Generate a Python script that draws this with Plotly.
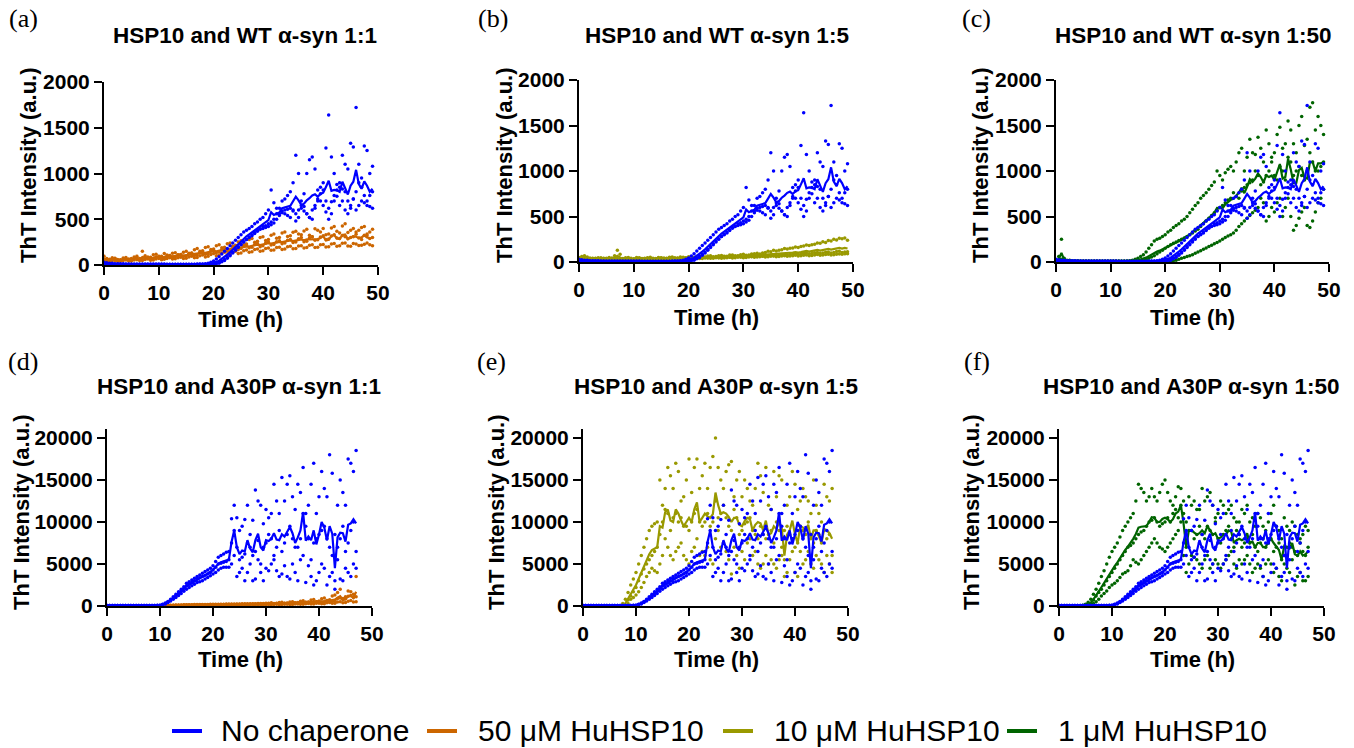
import numpy as np
import plotly.graph_objects as go

W, H = 1354, 748

# ---------------- data ----------------
# Readings are at whole hours (h0) and half hours (h5) for each replicate.
time_wt_end = 49      # WT alpha-syn runs, hours 0 .. 49
time_a30p_end = 47    # A30P alpha-syn runs, hours 0 .. 47

# WT alpha-syn, no chaperone (3 replicates)
wt_none_r1_h0 = [30,20,15,15,12,12,10,10,10,10,10,10,8,8,8,8,8,10,12,20,
                 45,90,150,210,270,330,380,420,470,520,600,680,560,720,800,
                 1200,650,1000,1180,700,900,1640,1000,650,1100,1330,1720,950,1250,1080]
wt_none_r1_h5 = [25,18,15,13,12,11,10,10,10,10,10,9,8,8,8,8,9,11,15,
                 30,65,120,180,240,300,360,400,450,500,560,820,620,700,760,
                 900,1000,780,1150,1050,850,1280,1180,880,1200,1050,1290,1100,1300,1000]
wt_none_r2_h0 = [10,8,6,5,5,5,5,5,5,5,5,5,5,5,5,5,5,5,5,8,
                 10,20,50,100,160,220,280,320,370,420,450,500,620,560,520,
                 480,700,560,600,820,650,500,700,900,600,650,600,700,650,620]
wt_none_r2_h5 = [9,7,5,5,5,5,5,5,5,5,5,5,5,5,5,5,5,5,6,
                 9,15,35,75,130,190,250,300,345,395,430,470,560,590,540,
                 600,520,640,520,650,700,580,560,750,700,560,720,650,680,640]
wt_none_r3_h0 = [15,10,8,8,8,6,6,6,6,6,6,6,6,6,6,6,6,6,8,10,
                 15,30,60,110,170,230,280,330,380,400,420,460,540,600,620,
                 560,620,560,500,720,820,620,760,850,800,620,800,850,700,800]
wt_none_r3_h5 = [12,9,8,8,7,6,6,6,6,6,6,6,6,6,6,6,6,7,9,
                 12,22,45,85,140,200,255,305,355,390,410,440,500,570,610,
                 590,600,590,520,620,780,700,690,820,830,700,720,900,760,760]

# WT alpha-syn + 50 uM HuHSP10
wt_50_r1_h0 = [95,62,75,58,82,70,95,150,80,112,90,125,100,135,115,150,130,180,155,200,
               175,220,195,240,215,265,230,290,260,310,280,340,300,360,320,370,330,390,310,380,
               400,340,420,350,450,380,360,410,340,390]
wt_50_r1_h5 = [70,80,60,76,65,88,72,100,85,118,96,108,128,112,140,128,168,150,190,170,
               210,188,232,205,250,222,278,248,300,268,325,292,350,312,358,340,372,325,395,
               360,330,405,370,425,355,400,380,420,360]
wt_50_r2_h0 = [60,48,72,55,68,60,80,65,88,72,95,80,105,88,112,98,128,110,140,125,
               160,142,178,160,200,180,215,195,235,210,250,225,265,240,280,250,300,260,310,275,
               320,285,330,290,310,300,335,280,320,300]
wt_50_r2_h5 = [52,65,50,62,58,72,62,80,70,85,78,98,85,110,95,120,105,135,118,
               150,135,168,150,188,170,205,188,225,200,240,218,255,232,270,245,288,255,298,270,
               305,278,318,295,322,288,310,295,325,290]
wt_50_r3_h0 = [45,38,50,42,55,45,58,50,65,55,70,62,78,68,85,75,95,82,110,95,
               125,108,140,120,150,132,165,145,175,155,185,165,195,175,205,180,210,190,220,195,
               225,200,235,210,240,205,230,215,240,210]
wt_50_r3_h5 = [40,46,38,50,44,54,48,60,52,66,58,72,65,80,72,88,78,100,88,
               115,100,130,112,142,125,155,138,170,150,180,160,190,170,200,178,208,185,215,192,
               222,198,230,205,238,208,235,212,228,220]

# WT alpha-syn + 10 uM HuHSP10
wt_10_r1_h0 = [50,70,45,38,48,36,44,130,38,50,36,46,40,52,38,48,42,55,44,52,
               58,50,64,56,68,60,72,64,78,70,
               85,78,92,88,105,112,122,135,142,155,
               160,175,182,195,205,215,232,242,255,240]
wt_10_r1_h5 = [60,55,40,46,40,50,70,85,46,40,50,38,48,42,50,44,52,46,56,48,
               54,60,54,66,58,70,62,76,68,
               80,75,88,95,100,118,128,130,148,150,
               165,170,188,190,210,222,235,250,260,265]
wt_10_r2_h0 = [35,60,32,40,30,42,34,38,30,40,32,42,36,44,34,45,38,46,40,48,
               42,50,44,52,46,56,50,58,54,62,
               58,66,62,70,66,75,72,82,78,88,
               86,95,90,102,96,108,100,115,105,112]
wt_10_r2_h5 = [45,45,38,32,38,32,40,35,38,34,38,34,40,36,42,36,44,38,45,40,
               46,42,50,44,53,48,56,52,60,
               55,64,60,68,64,72,70,78,76,84,
               90,86,98,94,104,98,110,104,118,110]
wt_10_r3_h0 = [30,35,26,34,28,32,26,34,28,33,27,35,30,36,31,37,32,38,33,40,
               36,42,38,44,40,46,42,48,45,52,
               48,55,52,58,55,62,58,66,62,70,
               66,74,70,78,74,82,78,86,84,92]
wt_10_r3_h5 = [32,30,32,27,32,28,31,28,32,29,33,31,34,32,35,33,36,34,37,38,
               39,44,38,46,41,48,43,51,47,
               55,50,58,54,62,57,66,61,70,65,
               74,69,78,72,82,76,86,80,88,90]

# WT alpha-syn + 1 uM HuHSP10
wt_1_r1_h0 = [20,250,20,15,15,10,10,10,10,10,10,10,10,10,
              20,40,80,150,230,260,300,350,400,450,500,580,650,730,800,880,
              950,980,1050,1100,1250,1150,1200,1370,1100,1300,1200,1480,1300,1450,1200,1600,1350,1750,1600,1400]
wt_1_r1_h5 = [60,40,18,15,12,10,10,10,10,10,10,10,10,14,
              30,60,110,190,250,280,330,380,420,470,540,620,700,760,840,1000,
              900,1020,1000,1200,1000,1350,1180,1250,1450,1150,1400,1250,1550,1300,1500,1280,1700,1450,1500]
wt_1_r2_h0 = [15,30,10,10,8,8,8,8,8,8,8,8,8,8,8,
              10,20,40,70,110,150,190,220,250,280,320,360,420,480,540,
              600,650,700,720,780,850,900,950,880,1000,950,1050,900,1100,1000,950,1000,1100,1000,1100]
wt_1_r2_h5 = [20,15,10,9,8,8,8,8,8,8,8,8,8,8,9,
              15,30,55,90,130,170,205,235,265,300,340,390,450,510,570,
              620,680,760,700,820,870,1000,850,950,1100,900,1000,1150,950,1050,900,1200,1000,1050]
wt_1_r3_h0 = [10,20,5,5,5,5,5,5,5,5,5,5,5,5,5,5,5,5,5,5,5,
              10,20,40,60,80,110,140,170,200,230,270,300,350,420,480,
              540,600,650,500,550,700,600,500,400,550,400,450,650,800]
wt_1_r3_h5 = [15,12,5,5,5,5,5,5,5,5,5,5,5,5,5,5,5,5,5,5,7,
              15,30,50,70,95,125,155,185,215,250,285,320,390,450,510,
              570,700,450,600,650,500,700,350,480,600,380,550,700]

# A30P alpha-syn, no chaperone
a30p_none_r1_h0 = [60,60,60,60,60,60,60,60,60,60,100,
                   350,800,1400,2000,2700,3100,3500,3900,4300,4800,5800,6200,6500,
                   12000,9000,10300,8500,13800,12000,11500,11000,12500,15300,14500,13000,14500,16500,12000,
                   17000,13000,14000,18000,8500,15000,12000,17000,18500]
a30p_none_r1_h5 = [60,60,60,60,60,60,60,60,60,80,
                   200,550,1100,1700,2300,2900,3300,3700,4100,4500,5300,6000,6400,
                   10400,10500,9500,12000,10200,12500,9800,10500,14500,11000,12500,15500,11500,13500,11000,
                   14500,11000,16000,13000,15800,12000,13500,17500,16000]
a30p_none_r2_h0 = [60,60,60,60,60,60,60,60,60,60,80,
                   300,700,1200,1800,2400,2800,3200,3500,3800,4300,5000,5200,5500,
                   9000,5500,6200,7000,6500,5000,7500,8000,7000,6500,8500,8000,7000,11000,8000,
                   7500,8500,9500,7000,3000,8000,6500,9000,6500]
a30p_none_r2_h5 = [60,60,60,60,60,60,60,60,60,70,
                   180,480,950,1500,2100,2600,3000,3350,3650,4000,4600,5100,5300,
                   7500,7000,5800,7500,6000,7800,7000,8500,6000,9000,7500,9500,7000,8000,9500,
                   5500,8000,9000,8000,6000,7000,9500,7500,10000]
a30p_none_r3_h0 = [60,60,60,60,60,60,60,60,60,60,70,
                   250,600,1000,1500,2000,2400,2800,3000,3400,3800,4300,4600,4600,
                   6000,4000,3000,5000,3200,4000,4500,5000,4200,3800,3500,5000,3000,6000,4800,
                   2500,4000,4500,3500,2000,3200,4500,3500,4500]
a30p_none_r3_h5 = [60,60,60,60,60,60,60,60,60,65,
                   150,420,800,1250,1750,2200,2600,2900,3200,3600,4000,4500,4600,
                   5000,3500,4500,4000,3000,5500,3000,4200,5500,3500,4800,3200,4000,5500,2800,
                   3500,3000,5000,2500,4000,5500,3000,4000,5000]

# A30P alpha-syn + 50 uM HuHSP10
a30p_50_r1_h0 = [40,40,40,40,40,40,40,40,40,40,40,
                 60,90,110,130,150,160,170,180,190,200,210,220,230,240,250,260,270,280,300,320,
                 380,320,450,360,520,410,620,480,780,560,950,700,1300,2000,1100,1700,3500]
a30p_50_r1_h5 = [40,40,40,40,40,40,40,40,40,40,40,
                 75,100,120,140,155,165,175,185,195,205,215,225,235,245,255,265,275,290,310,330,
                 300,420,340,480,380,560,450,700,520,850,650,1200,1600,900,1800,1400]
a30p_50_r2_h0 = [40,40,40,40,40,40,40,40,40,40,40,
                 50,70,85,100,110,120,130,140,150,150,160,170,180,190,200,210,220,230,240,250,
                 240,300,260,340,300,390,330,460,400,560,480,720,650,950,850,1250,1100]
a30p_50_r2_h5 = [40,40,40,40,40,40,40,40,40,40,40,
                 60,78,92,105,115,125,135,145,150,155,165,175,185,195,205,215,225,235,245,255,
                 280,250,330,290,380,340,440,390,520,450,650,560,880,800,1150,1000]
a30p_50_r3_h0 = [40,40,40,40,40,40,40,40,40,40,40,
                 40,50,60,70,80,85,90,95,100,100,105,110,115,120,125,130,135,140,150,160,
                 150,200,165,220,185,250,210,290,240,340,280,420,330,520,420,650,500]
a30p_50_r3_h5 = [40,40,40,40,40,40,40,40,40,40,40,
                 45,55,65,75,82,88,92,98,100,102,108,112,118,122,128,132,138,145,155,165,
                 180,160,210,180,240,200,270,230,320,270,400,320,480,400,580,480]

# A30P alpha-syn + 10 uM HuHSP10
a30p_10_r1_h0 = [40,40,40,40,40,40,40,40,
                 800,2500,4000,6000,8000,9500,10000,12000,16500,14000,16000,13000,17500,16500,14000,
                 17000,16500,20000,15000,16000,17200,15000,13000,14000,12000,17000,13500,12000,16000,
                 15500,9000,13000,14500,12500,13000,11000,12000,10000,13000,14000]
a30p_10_r1_h5 = [40,40,40,40,40,40,40,
                 300,1600,3200,5000,7000,9000,9800,15000,14000,15500,17000,12500,15000,13500,17500,
                 15500,14000,17800,16500,14000,16800,13000,16000,15000,12500,14000,15500,16500,11500,
                 13000,15000,12000,16000,11500,14000,12500,15000,11000,14500,12500]
a30p_10_r2_h0 = [40,40,40,40,40,40,40,40,
                 100,1200,2200,3800,5000,6000,7000,10000,11000,10500,10000,9500,9000,11000,10000,
                 10000,9500,12500,11000,10500,9000,10500,9000,10000,9000,8000,8500,8500,7500,
                 9000,5500,8500,7000,9500,8500,8000,9000,7500,8000,6000]
a30p_10_r2_h5 = [40,40,40,40,40,40,40,
                 150,700,1700,3000,4400,5500,6500,8500,11500,9000,11000,10500,9500,10000,11500,
                 9500,11000,10000,10500,12000,9500,11500,8500,9800,10500,8500,9500,8000,9000,
                 10000,7000,9500,8000,7500,9000,10000,7500,8500,9000,8500]
a30p_10_r3_h0 = [40,40,40,40,40,40,40,40,
                 30,800,1300,2200,3500,4500,4000,6000,7000,5500,7000,6000,5000,7000,6000,
                 6000,5500,8000,7000,6500,3800,6000,6500,7500,6000,5000,5000,5000,5000,
                 5500,3500,5500,4000,6500,5500,5000,6000,5000,6000,4000]
a30p_10_r3_h5 = [40,40,40,40,40,40,40,
                 40,300,1000,1700,2800,4000,4200,5000,8000,6000,6500,7500,5500,6500,8000,
                 6500,7000,5000,9000,7500,5500,7000,4500,5500,8000,6500,4500,6000,5500,
                 4500,6000,4000,6500,3500,5000,6500,4500,5500,4000,5000]

# A30P alpha-syn + 1 uM HuHSP10
a30p_1_r1_h0 = [30,30,30,30,30,
                200,800,2000,3500,5000,6500,7500,9000,10000,11000,14500,13500,13000,13000,13500,15000,
                12500,13000,14000,10000,12000,11500,14000,13000,12000,11000,12000,11500,10500,10000,11000,
                10000,9500,10500,9000,11000,9500,8000,9500,10000,8500,8500,9000]
a30p_1_r1_h5 = [30,30,30,30,
                80,450,1400,2700,4200,5800,7000,8200,9500,10500,12500,14000,12500,14000,12500,14500,
                13500,12000,14200,11000,13000,12500,11500,12500,13500,10500,12500,11000,12000,10000,
                11500,12000,10500,11000,9500,10000,12000,9000,10500,9000,9500,8000,9500]
a30p_1_r2_h0 = [30,30,30,30,30,
                100,300,1200,2000,3000,4000,5000,6000,7000,7500,8500,9000,10000,10500,9500,10000,
                10000,11500,12000,7000,9000,8500,8500,9500,8500,8000,8500,9500,7000,8500,7500,
                7500,7000,7500,7000,8000,7000,5500,7000,7000,6000,6500,7000]
a30p_1_r2_h5 = [30,30,30,30,
                50,180,700,1600,2500,3500,4500,5500,6500,7200,8000,8800,9500,10200,10000,9800,
                10500,11000,10500,12500,9000,8000,9500,8000,9000,10000,7500,9000,8000,9000,
                7000,8000,8500,6500,8000,7500,6500,7500,6000,7500,6500,7500,6000]
a30p_1_r3_h0 = [30,30,30,30,30,
                30,100,500,1200,1800,2500,3000,3800,4200,5500,5000,6000,7000,8000,7000,6500,
                7500,8500,10000,4000,6000,5500,4500,6000,5000,5000,5000,6000,5000,5500,5500,
                5000,4500,4500,5000,5000,4500,3000,4500,5500,3500,3000,3500]
a30p_1_r3_h5 = [30,30,30,30,
                30,60,300,800,1500,2200,2700,3400,4000,4800,5200,5500,6500,7500,7500,6800,
                7000,8000,9000,6000,5000,5800,5000,5500,4500,5500,4500,5500,6500,4500,
                5000,6000,4000,5000,3500,5500,4000,3500,5000,4000,2500,4000,3000]

series_names = ["No chaperone", "50 μM HuHSP10", "10 μM HuHSP10", "1 μM HuHSP10"]
panel_letters = ["(a)", "(b)", "(c)", "(d)", "(e)", "(f)"]
panel_titles = ["HSP10 and WT α-syn 1:1", "HSP10 and WT α-syn 1:5", "HSP10 and WT α-syn 1:50",
                "HSP10 and A30P α-syn 1:1", "HSP10 and A30P α-syn 1:5", "HSP10 and A30P α-syn 1:50"]
x_ticks = [0, 10, 20, 30, 40, 50]
y_ticks_wt = [0, 500, 1000, 1500, 2000]
y_ticks_a30p = [0, 5000, 10000, 15000, 20000]

# ---------------- styles ----------------
BLUE = "#0000FF"
ORANGE = "#CC6600"
OLIVE = "#999900"
GREEN = "#006400"
colors = [BLUE, ORANGE, OLIVE, GREEN]
FONT = "Liberation Sans, Arial, sans-serif"


def pxx(x):
    return x / W


def pxy(y):
    return 1 - y / H


def merge(h0, h5):
    """Put whole-hour and half-hour readings in time order."""
    if len(h5) != len(h0) - 1:
        raise ValueError("length mismatch %d %d" % (len(h0), len(h5)))
    out = []
    for a, b in zip(h0[:-1], h5):
        out += [a, b]
    out.append(h0[-1])
    return out


def times(end):
    return [k * 0.5 for k in range(2 * end + 1)]


time_wt = times(time_wt_end)
time_a30p = times(time_a30p_end)

wt_none = [merge(wt_none_r1_h0, wt_none_r1_h5), merge(wt_none_r2_h0, wt_none_r2_h5),
           merge(wt_none_r3_h0, wt_none_r3_h5)]
wt_50 = [merge(wt_50_r1_h0, wt_50_r1_h5), merge(wt_50_r2_h0, wt_50_r2_h5),
         merge(wt_50_r3_h0, wt_50_r3_h5)]
wt_10 = [merge(wt_10_r1_h0, wt_10_r1_h5), merge(wt_10_r2_h0, wt_10_r2_h5),
         merge(wt_10_r3_h0, wt_10_r3_h5)]
wt_1 = [merge(wt_1_r1_h0, wt_1_r1_h5), merge(wt_1_r2_h0, wt_1_r2_h5),
        merge(wt_1_r3_h0, wt_1_r3_h5)]
a30p_none = [merge(a30p_none_r1_h0, a30p_none_r1_h5), merge(a30p_none_r2_h0, a30p_none_r2_h5),
             merge(a30p_none_r3_h0, a30p_none_r3_h5)]
a30p_50 = [merge(a30p_50_r1_h0, a30p_50_r1_h5), merge(a30p_50_r2_h0, a30p_50_r2_h5),
           merge(a30p_50_r3_h0, a30p_50_r3_h5)]
a30p_10 = [merge(a30p_10_r1_h0, a30p_10_r1_h5), merge(a30p_10_r2_h0, a30p_10_r2_h5),
           merge(a30p_10_r3_h0, a30p_10_r3_h5)]
a30p_1 = [merge(a30p_1_r1_h0, a30p_1_r1_h5), merge(a30p_1_r2_h0, a30p_1_r2_h5),
          merge(a30p_1_r3_h0, a30p_1_r3_h5)]

# panel geometry in page pixels: (left, right, top, bottom), y range max
panels = [
    dict(box=(104, 378, 82, 265), ymax=2000, yt=y_ticks_wt, t=time_wt, base=wt_none,
         chap=wt_50, col=ORANGE,
         letter=(23, 19), title=(245, 36), ytitle=(28, 165), xtitle=(241, 319)),
    dict(box=(579, 853, 80, 262), ymax=2000, yt=y_ticks_wt, t=time_wt, base=wt_none,
         chap=wt_10, col=OLIVE,
         letter=(493, 19), title=(717, 36), ytitle=(504, 165), xtitle=(716, 317)),
    dict(box=(1056, 1329, 80, 262), ymax=2000, yt=y_ticks_wt, t=time_wt, base=wt_none,
         chap=wt_1, col=GREEN,
         letter=(977, 19), title=(1193, 36), ytitle=(980, 165), xtitle=(1192, 317)),
    dict(box=(107, 372, 429, 606), ymax=21070, yt=y_ticks_a30p, t=time_a30p, base=a30p_none,
         chap=a30p_50, col=ORANGE,
         letter=(23, 361), title=(239, 387), ytitle=(22, 512), xtitle=(240, 659)),
    dict(box=(583, 848, 429, 606), ymax=21070, yt=y_ticks_a30p, t=time_a30p, base=a30p_none,
         chap=a30p_10, col=OLIVE,
         letter=(491, 361), title=(716, 387), ytitle=(497, 512), xtitle=(716, 659)),
    dict(box=(1059, 1324, 429, 606), ymax=21070, yt=y_ticks_a30p, t=time_a30p, base=a30p_none,
         chap=a30p_1, col=GREEN,
         letter=(977, 361), title=(1191, 387), ytitle=(972, 512), xtitle=(1192, 659)),
]

fig = go.Figure()
layout = dict(width=W, height=H, margin=dict(l=0, r=0, t=0, b=0, autoexpand=False),
              paper_bgcolor="white", plot_bgcolor="white", showlegend=False)
annotations = []
shapes = []


def add_group(reps, t, col, xa, ya):
    xs, ys = [], []
    for r in reps:
        xs += list(t)
        ys += list(r)
    fig.add_trace(go.Scatter(x=xs, y=ys, mode="markers", xaxis=xa, yaxis=ya,
                             marker=dict(size=3.5, color=col, line=dict(width=0)),
                             showlegend=False, cliponaxis=False, hoverinfo="skip"))
    mean = np.mean(np.array(reps, dtype=float), axis=0)
    fig.add_trace(go.Scatter(x=list(t), y=list(mean), mode="lines", xaxis=xa, yaxis=ya,
                             line=dict(color=col, width=2.2), showlegend=False,
                             cliponaxis=False))


for i, p in enumerate(panels):
    n = "" if i == 0 else str(i + 1)
    xa, ya = "x" + n, "y" + n
    l, r, tp, bt = p["box"]
    add_group(p["chap"], p["t"], p["col"], xa, ya)
    add_group(p["base"], p["t"], BLUE, xa, ya)
    axis_common = dict(showline=True, linecolor="black", linewidth=2, ticks="outside",
                       ticklen=8, tickwidth=2, tickcolor="black", showgrid=False,
                       zeroline=False, automargin=False,
                       tickfont=dict(family=FONT, size=21, color="black", weight="bold"))
    layout["xaxis" + n] = dict(domain=[pxx(l), pxx(r)], range=[0, 50], tickvals=x_ticks,
                               ticktext=[str(v) for v in x_ticks], anchor=ya, **axis_common)
    layout["yaxis" + n] = dict(domain=[pxy(bt), pxy(tp)], range=[0, p["ymax"]],
                               tickvals=p["yt"], ticktext=[str(v) for v in p["yt"]],
                               anchor=xa, **axis_common)
    lx, ly = p["letter"]
    annotations.append(dict(text=panel_letters[i], x=pxx(lx), y=pxy(ly), xref="paper",
                            yref="paper", showarrow=False, xanchor="center", yanchor="middle",
                            font=dict(family="Liberation Serif, Times New Roman, serif",
                                      size=26, color="black")))
    tx, ty = p["title"]
    annotations.append(dict(text="<b>" + panel_titles[i] + "</b>", x=pxx(tx), y=pxy(ty),
                            xref="paper", yref="paper", showarrow=False, xanchor="center",
                            yanchor="middle", font=dict(family=FONT, size=22.5, color="black")))
    yx, yy = p["ytitle"]
    annotations.append(dict(text="<b>ThT Intensity (a.u.)</b>", x=pxx(yx), y=pxy(yy),
                            xref="paper", yref="paper", showarrow=False, textangle=-90,
                            xanchor="center", yanchor="middle",
                            font=dict(family=FONT, size=22, color="black")))
    xx, xy = p["xtitle"]
    annotations.append(dict(text="<b>Time (h)</b>", x=pxx(xx), y=pxy(xy),
                            xref="paper", yref="paper", showarrow=False,
                            xanchor="center", yanchor="middle",
                            font=dict(family=FONT, size=22, color="black")))

# legend row (swatch line + label), placed like the reference
legend_line_px = [172, 427, 723, 1007]
legend_text_px = [219, 476, 772, 1056]
for k, (name, col) in enumerate(zip(series_names, colors)):
    shapes.append(dict(type="line", xref="paper", yref="paper",
                       x0=pxx(legend_line_px[k]), x1=pxx(legend_line_px[k] + 30),
                       y0=pxy(731), y1=pxy(731), line=dict(color=col, width=4)))
    annotations.append(dict(text=name, x=pxx(legend_text_px[k]), y=pxy(730), xref="paper",
                            yref="paper", showarrow=False, xanchor="left", yanchor="middle",
                            font=dict(family=FONT, size=30, color="black")))

layout["annotations"] = annotations
layout["shapes"] = shapes
fig.update_layout(**layout)
fig.write_html("out.html", config={"displayModeBar": False},
               post_script="document.body.style.margin='0';document.body.style.overflow='hidden';")
